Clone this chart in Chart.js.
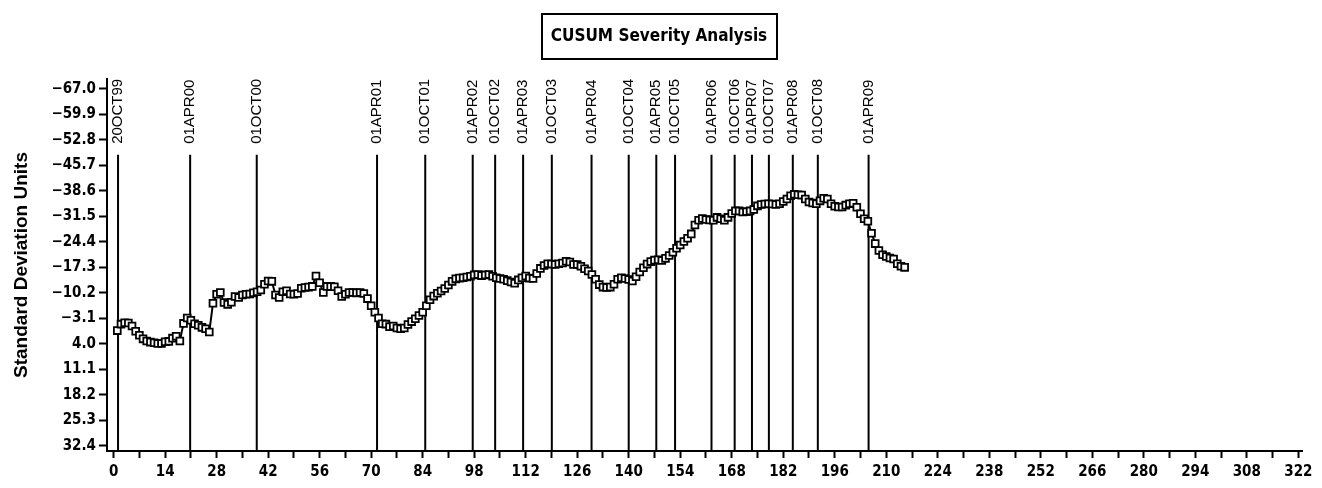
<!DOCTYPE html>
<html>
<head>
<meta charset="utf-8">
<title>CUSUM Severity Analysis</title>
<script src="https://cdn.jsdelivr.net/npm/chart.js@4.4.1/dist/chart.umd.min.js"></script>
<style>
  html, body { margin: 0; padding: 0; background: #fff; }
  #wrap { width: 1322px; height: 488px; }
</style>
</head>
<body>
<div id="wrap"><canvas id="cusumChart"></canvas></div>
<script>
  // CUSUM value for each observation, starting at observation 1
  const cusum = [
    0.3, -1.5, -1.9, -1.8, -1.0, 0.5, 1.6, 2.6, 3.2, 3.5,
    3.7, 3.9, 3.9, 3.4, 3.3, 2.4, 1.9, 3.2, -1.7, -3.2,
    -2.6, -1.6, -1.2, -0.6, -0.2, 0.7, -7.3, -9.8, -10.3, -7.5,
    -7.0, -7.6, -9.2, -8.9, -9.6, -9.8, -9.9, -10.2, -10.5, -11.0,
    -12.6, -13.5, -13.4, -9.6, -8.9, -10.5, -10.8, -9.9, -9.8, -10.0,
    -11.5, -11.7, -11.8, -12.0, -14.9, -13.0, -10.3, -12.0, -12.0, -11.9,
    -10.8, -9.2, -9.8, -10.3, -10.3, -10.2, -10.3, -10.0, -8.6, -6.6,
    -4.8, -3.2, -1.6, -1.5, -0.8, -1.0, -0.4, -0.2, -0.4, -1.4,
    -2.2, -3.0, -3.9, -4.8, -6.6, -8.3, -9.3, -10.1, -10.7, -11.4,
    -12.4, -13.4, -14.1, -14.3, -14.4, -14.6, -14.8, -15.2, -15.3, -15.0,
    -15.2, -15.3, -14.8, -14.4, -14.2, -14.0, -13.6, -13.2, -12.9, -13.8,
    -14.4, -14.9, -14.3, -14.2, -15.6, -17.0, -17.8, -18.3, -18.2, -18.1,
    -18.3, -18.5, -19.0, -18.8, -18.1, -18.1, -17.6, -16.9, -16.3, -15.3,
    -14.0, -12.5, -11.8, -11.7, -11.8, -12.6, -14.0, -14.4, -14.2, -13.9,
    -13.5, -14.7, -16.0, -17.2, -18.2, -18.9, -19.3, -19.4, -19.2, -19.8,
    -20.6, -21.5, -22.6, -23.5, -24.5, -25.4, -26.6, -29.1, -30.4, -30.9,
    -30.6, -30.5, -30.4, -31.2, -30.8, -30.4, -31.2, -32.3, -33.0, -33.0,
    -32.7, -32.8, -33.0, -33.4, -34.4, -34.8, -34.9, -35.0, -34.9, -34.8,
    -35.0, -35.6, -36.3, -37.2, -37.6, -37.5, -37.4, -36.3, -35.5, -35.2,
    -35.0, -35.8, -36.5, -36.3, -35.0, -34.3, -34.1, -34.1, -34.6, -35.0,
    -35.1, -34.0, -32.2, -30.8, -30.1, -26.8, -23.9, -22.0, -20.8, -20.3,
    -19.9, -19.6, -18.3, -17.6, -17.3
  ];
  const firstObs = 1;

  // reference dates, placed on the observation axis
  const eventLabels = ['20OCT99', '01APR00', '01OCT00', '01APR01', '01OCT01', '01APR02', '01OCT02',
    '01APR03', '01OCT03', '01APR04', '01OCT04', '01APR05', '01OCT05', '01APR06', '01OCT06',
    '01APR07', '01OCT07', '01APR08', '01OCT08', '01APR09'];
  const eventObs = [1.2, 20.8, 38.9, 71.6, 84.7, 97.6, 103.7, 111.3, 119.1, 129.9, 140.0,
    147.5, 152.6, 162.5, 168.8, 173.5, 178.1, 184.6, 191.4, 205.2];

  const yTickValues = [-67.0, -59.9, -52.8, -45.7, -38.6, -31.5, -24.4, -17.3, -10.2, -3.1,
    4.0, 11.1, 18.2, 25.3, 32.4];
  const xTickValues = [0, 14, 28, 42, 56, 70, 84, 98, 112, 126, 140, 154, 168, 182, 196,
    210, 224, 238, 252, 266, 280, 294, 308, 322];

  const yMin = -69.7, yMax = 33.8;
  const eventTop = -48.6;

  const narrow = "'Liberation Sans Narrow', 'DejaVu Sans Condensed', Arial, sans-serif";

  const points = cusum.map((v, i) => ({ x: firstObs + i, y: v }));

  const eventSets = eventObs.map(p => ({
    data: [{ x: p, y: eventTop }, { x: p, y: yMax }],
    showLine: true,
    borderColor: '#000',
    borderWidth: 2,
    pointRadius: 0,
    order: 2
  }));

  // rotated date labels above each reference line
  const eventText = {
    id: 'eventText',
    afterDatasetsDraw(chart) {
      const ctx = chart.ctx, xs = chart.scales.x, ys = chart.scales.y;
      ctx.save();
      ctx.fillStyle = '#000';
      ctx.font = "15px 'Liberation Sans', Arial, sans-serif";
      ctx.textAlign = 'left';
      ctx.textBaseline = 'middle';
      eventObs.forEach((p, i) => {
        const px = xs.getPixelForValue(p);
        const py = ys.getPixelForValue(eventTop) - 11;
        ctx.save();
        ctx.translate(px, py);
        ctx.rotate(-Math.PI / 2);
        ctx.fillText(eventLabels[i], 0, 0);
        ctx.restore();
      });
      ctx.restore();
    }
  };

  // boxed title at the top
  const titleBox = {
    id: 'titleBox',
    afterDraw(chart) {
      const ctx = chart.ctx;
      ctx.save();
      ctx.strokeStyle = '#000';
      ctx.lineWidth = 2;
      ctx.strokeRect(542, 14, 235, 45);
      ctx.fillStyle = '#000';
      ctx.font = "bold 17px " + narrow;
      ctx.textAlign = 'center';
      ctx.textBaseline = 'middle';
      ctx.fillText('CUSUM Severity Analysis', 659, 37);
      ctx.restore();
    }
  };

  const ctx = document.getElementById('cusumChart').getContext('2d');
  new Chart(ctx, {
    type: 'scatter',
    data: {
      datasets: [{
        data: points,
        showLine: true,
        borderColor: '#000',
        borderWidth: 2,
        pointStyle: 'rect',
        pointRadius: 4.8,
        pointBorderWidth: 1.8,
        pointBorderColor: '#000',
        pointBackgroundColor: '#fff',
        order: 1
      }, ...eventSets]
    },
    options: {
      responsive: true,
      maintainAspectRatio: false,
      animation: false,
      layout: { padding: { top: 79, right: 20, bottom: 2, left: 0 } },
      plugins: {
        legend: { display: false },
        tooltip: { enabled: false }
      },
      scales: {
        x: {
          type: 'linear',
          min: -1.8,
          max: 323,
          afterBuildTicks: s => {
            const t = [];
            xTickValues.forEach(v => {
              t.push({ value: v });
              if (v + 7 < 322) t.push({ value: v + 7 });
            });
            s.ticks = t;
          },
          ticks: {
            autoSkip: false,
            maxRotation: 0,
            padding: 5,
            color: '#000',
            font: { family: narrow, size: 15, weight: 'bold' },
            callback: v => xTickValues.includes(v) ? String(v) : ''
          },
          grid: { drawOnChartArea: false, drawTicks: true, tickLength: 7, tickColor: '#000', tickWidth: 2 },
          border: { display: true, color: '#000', width: 2 }
        },
        y: {
          type: 'linear',
          reverse: true,
          min: yMin,
          max: yMax,
          afterBuildTicks: s => { s.ticks = yTickValues.map(v => ({ value: v })); },
          afterFit: s => { s.width = 107; },
          ticks: {
            autoSkip: false,
            padding: 3,
            color: '#000',
            font: { family: narrow, size: 15, weight: 'bold' },
            callback: v => v.toFixed(1).replace('-', '\u2212')
          },
          grid: { drawOnChartArea: false, drawTicks: true, tickLength: 8, tickColor: '#000', tickWidth: 2 },
          border: { display: true, color: '#000', width: 2 },
          title: {
            display: true,
            text: 'Standard Deviation Units',
            color: '#000',
            font: { family: "'Liberation Sans', Arial, sans-serif", size: 19, weight: 'bold' },
            padding: { top: 10, bottom: 0 }
          }
        }
      }
    },
    plugins: [eventText, titleBox]
  });
</script>
</body>
</html>
